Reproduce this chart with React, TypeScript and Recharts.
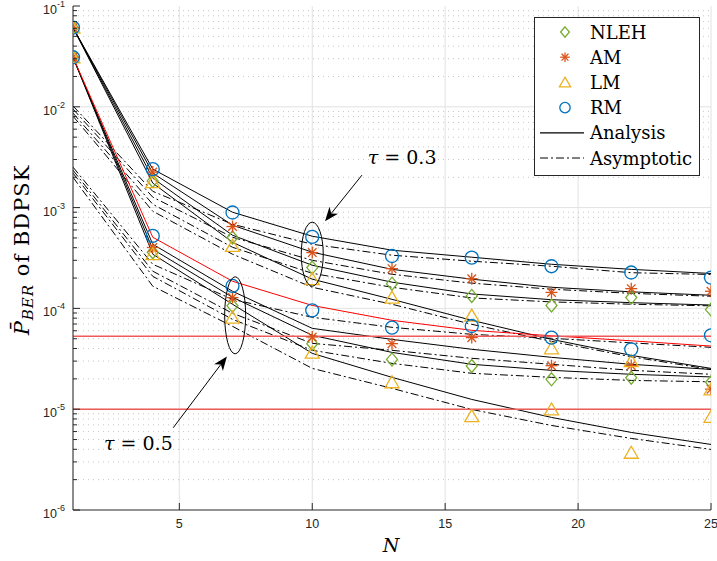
import React from "react"
import { ComposedChart, Line, XAxis, YAxis, CartesianGrid, ReferenceLine, ReferenceDot } from "recharts"

const W = 717
const H = 561

const N_PTS = [1, 4, 7, 10, 13, 16, 19, 22, 25]
const X_TICKS = [5, 10, 15, 20, 25]
const DECADES = [1e-6, 1e-5, 1e-4, 1e-3, 1e-2, 1e-1]
const MINOR_MULT = [2, 3, 4, 5, 6, 7, 8, 9]
const MINOR_TICKS = DECADES.slice(0, -1).flatMap(d => MINOR_MULT.map(m => m * d))
const Y_TICKS = [...DECADES, ...MINOR_TICKS].sort((a, b) => a - b)

// target BER levels (red horizontal lines)
const TARGETS = [5.3e-5, 1e-5]

// tau = 0.3 : simulation points
const simNLEH03 = [6.1e-2, 1.84e-3, 5.05e-4, 2.54e-4, 1.76e-4, 1.33e-4, 1.07e-4, 1.28e-4, 9.73e-5]
const simAM03 = [6.1e-2, 2.25e-3, 6.49e-4, 3.58e-4, 2.48e-4, 1.97e-4, 1.44e-4, 1.57e-4, 1.48e-4]
const simLM03 = [6.1e-2, 1.79e-3, 4.17e-4, 1.95e-4, 1.28e-4, 8.48e-5, 4.02e-5, 3.0e-5, 1.57e-5]
const simRM03 = [6.1e-2, 2.41e-3, 8.94e-4, 5.12e-4, 3.31e-4, 3.19e-4, 2.62e-4, 2.27e-4, 2.02e-4]

// tau = 0.5 : simulation points
const simNLEH05 = [3.1e-2, 3.61e-4, 1.06e-4, 4.47e-5, 3.12e-5, 2.68e-5, 1.98e-5, 2.05e-5, 1.85e-5]
const simAM05 = [3.1e-2, 4.02e-4, 1.28e-4, 5.2e-5, 4.47e-5, 5.13e-5, 2.7e-5, 2.72e-5, 1.58e-5]
const simLM05 = [3.1e-2, 3.45e-4, 8.1e-5, 3.64e-5, 1.85e-5, 8.54e-6, 9.95e-6, 3.7e-6, 8.38e-6]
const simRM05 = [3.1e-2, 5.24e-4, 1.67e-4, 9.57e-5, 6.45e-5, 6.69e-5, 5.13e-5, 3.93e-5, 5.41e-5]

// analysis curves
const anaRM03 = [6.1e-2, 2.41e-3, 9.0e-4, 5.2e-4, 3.78e-4, 3.22e-4, 2.74e-4, 2.44e-4, 2.22e-4]
const anaAM03 = [6.1e-2, 2.2e-3, 6.69e-4, 3.61e-4, 2.44e-4, 1.95e-4, 1.62e-4, 1.46e-4, 1.35e-4]
const anaNLEH03 = [6.1e-2, 1.96e-3, 5.32e-4, 2.68e-4, 1.82e-4, 1.39e-4, 1.22e-4, 1.14e-4, 1.08e-4]
const anaLM03 = [6.1e-2, 1.75e-3, 4.53e-4, 1.95e-4, 1.23e-4, 7.62e-5, 4.93e-5, 3.42e-5, 2.54e-5]
const anaRM05 = [3.1e-2, 5.08e-4, 1.86e-4, 1.07e-4, 7.62e-5, 6.06e-5, 5.35e-5, 4.77e-5, 4.23e-5]
const anaAM05 = [3.1e-2, 4.33e-4, 1.48e-4, 6.34e-5, 4.93e-5, 3.93e-5, 3.27e-5, 2.79e-5, 2.48e-5]
const anaNLEH05 = [3.1e-2, 3.86e-4, 1.29e-4, 5.41e-5, 3.66e-5, 2.79e-5, 2.43e-5, 2.22e-5, 2.09e-5]
const anaLM05 = [3.1e-2, 3.45e-4, 1.1e-4, 3.58e-5, 2.07e-5, 1.25e-5, 8.29e-6, 5.88e-6, 4.47e-6]

// asymptotic curves
const asyRM03 = [1.02e-2, 1.45e-3, 6.84e-4, 4.33e-4, 3.37e-4, 2.94e-4, 2.62e-4, 2.26e-4, 2.17e-4]
const asyAM03 = [9.5e-3, 1.27e-3, 5.08e-4, 3.0e-4, 2.18e-4, 1.78e-4, 1.55e-4, 1.41e-4, 1.32e-4]
const asyNLEH03 = [8.66e-3, 1.08e-3, 4.04e-4, 2.23e-4, 1.62e-4, 1.27e-4, 1.16e-4, 1.1e-4, 1.06e-4]
const asyLM03 = [8.08e-3, 9.21e-4, 3.45e-4, 1.62e-4, 1.1e-4, 6.95e-5, 4.71e-5, 3.31e-5, 2.48e-5]
const asyRM05 = [2.52e-3, 2.74e-4, 1.23e-4, 8.16e-5, 6.49e-5, 5.53e-5, 5.05e-5, 4.55e-5, 4.11e-5]
const asyAM05 = [2.35e-3, 2.34e-4, 8.94e-5, 4.5e-5, 3.84e-5, 3.2e-5, 2.79e-5, 2.43e-5, 2.22e-5]
const asyNLEH05 = [2.2e-3, 2.08e-4, 7.79e-5, 3.84e-5, 2.85e-5, 2.27e-5, 2.07e-5, 1.93e-5, 1.87e-5]
const asyLM05 = [2.0e-3, 1.66e-4, 6.64e-5, 2.54e-5, 1.61e-5, 9.95e-6, 6.9e-6, 5.13e-6, 3.99e-6]

const COL: Record<string, string> = { NLEH: "#77AC30", AM: "#D95319", LM: "#EDB120", RM: "#0072BD" }
const AXIS = "#262626"
const SERIF = "'DejaVu Serif', serif"
const SANS = "'Liberation Sans', Arial, sans-serif"
const DASHDOT = "8 3 2 3"

const rows = (ys: number[]) => N_PTS.map((n, i) => ({ n, v: ys[i] }))

function drawMarker(kind: string, cx: number, cy: number, key: string | number, s = 1) {
  const c = COL[kind]
  if (kind === "NLEH") {
    const h = 6.5 * s, w = 5.5 * s
    return <polygon key={key} points={`${cx},${cy - h} ${cx + w},${cy} ${cx},${cy + h} ${cx - w},${cy}`}
      fill="none" stroke={c} strokeWidth={1.3} />
  }
  if (kind === "AM") {
    const r = 6 * s, d = 4.3 * s
    return (
      <g key={key} stroke={c} strokeWidth={1.3}>
        <line x1={cx - r} x2={cx + r} y1={cy} y2={cy} />
        <line x1={cx} x2={cx} y1={cy - r} y2={cy + r} />
        <line x1={cx - d} x2={cx + d} y1={cy - d} y2={cy + d} />
        <line x1={cx - d} x2={cx + d} y1={cy + d} y2={cy - d} />
      </g>
    )
  }
  if (kind === "LM") {
    return <polygon key={key} points={`${cx},${cy - 6.5 * s} ${cx + 7 * s},${cy + 5.5 * s} ${cx - 7 * s},${cy + 5.5 * s}`}
      fill="none" stroke={c} strokeWidth={1.3} />
  }
  return <circle key={key} cx={cx} cy={cy} r={6.5 * s} fill="none" stroke={c} strokeWidth={1.3} />
}

const markerDot = (kind: string) => (p: any) => {
  const { cx, cy, index } = p
  if (cx == null || cy == null) return <g key={`${kind}-${index}`} />
  return drawMarker(kind, cx, cy, `${kind}-${index}`)
}

const isDecade = (v: number) => Math.abs(Math.log10(v) - Math.round(Math.log10(v))) < 1e-6

function LeftTick(p: any) {
  const { x, y, payload } = p
  const major = isDecade(payload.value)
  return (
    <g>
      <line x1={x} x2={x + (major ? 7 : 4)} y1={y} y2={y} stroke={AXIS} />
      {major && (
        <>
          <text x={x - 16} y={y + 8} textAnchor="end" fontSize={12.5} fontFamily={SANS} fill={AXIS}>10</text>
          <text x={x - 16} y={y + 1} textAnchor="start" fontSize={9} fontFamily={SANS} fill={AXIS}>
            {String(Math.round(Math.log10(payload.value)))}
          </text>
        </>
      )}
    </g>
  )
}

function RightTick(p: any) {
  const { x, y, payload } = p
  const major = isDecade(payload.value)
  return <line x1={x} x2={x - (major ? 7 : 4)} y1={y} y2={y} stroke={AXIS} />
}

function BottomTick(p: any) {
  const { x, y, payload } = p
  return (
    <g>
      <line x1={x} x2={x} y1={y} y2={y - 7} stroke={AXIS} />
      <text x={x} y={y + 18} textAnchor="middle" fontSize={12.5} fontFamily={SANS} fill={AXIS}>{payload.value}</text>
    </g>
  )
}

function TopTick(p: any) {
  const { x, y } = p
  return <line x1={x} x2={x} y1={y} y2={y + 7} stroke={AXIS} />
}

function Arrow(p: any) {
  const { x1, y1, x2, y2 } = p
  const a = Math.atan2(y2 - y1, x2 - x1)
  const ux = Math.cos(a), uy = Math.sin(a)
  const nx = -uy, ny = ux
  const L = 14, hw = 5.5, notch = 4
  const bx = x2 - L * ux, by = y2 - L * uy
  const mx = x2 - (L - notch) * ux, my = y2 - (L - notch) * uy
  return (
    <g>
      <line x1={x1} y1={y1} x2={mx} y2={my} stroke="#000" strokeWidth={1} />
      <polygon points={`${x2},${y2} ${bx + nx * hw},${by + ny * hw} ${mx},${my} ${bx - nx * hw},${by - ny * hw}`} fill="#000" />
    </g>
  )
}

const ellipse = (rx: number, ry: number) => (p: any) =>
  <ellipse cx={p.cx} cy={p.cy} rx={rx} ry={ry} fill="none" stroke="#000" strokeWidth={1} />

const tauLabel = (val: string) => (p: any) => (
  <text x={p.cx} y={p.cy} textAnchor="middle" dominantBaseline="central" fontFamily={SERIF} fontSize={19} fill="#000">
    <tspan fontStyle="italic">τ</tspan> = {val}
  </text>
)

const curve = (ys: number[], key: string, stroke: string, dash?: string) => (
  <Line key={key} data={rows(ys)} dataKey="v" xAxisId="b" yAxisId="l" type="linear" stroke={stroke}
    strokeWidth={1} strokeDasharray={dash} dot={false} activeDot={false} isAnimationActive={false} legendType="none" />
)

const marks = (ys: number[], key: string, kind: string) => (
  <Line key={key} data={rows(ys)} dataKey="v" xAxisId="b" yAxisId="l" stroke="none" dot={markerDot(kind)}
    activeDot={false} isAnimationActive={false} legendType="none" />
)

const LEGEND_ROWS = ["NLEH", "AM", "LM", "RM", "Analysis", "Asymptotic"]

export default function App() {
  return (
    <div style={{ position: "absolute", left: 0, top: 0, width: W, height: H, background: "#fff" }}>
      <ComposedChart width={W} height={H} margin={{ top: 6, right: 6, bottom: 21, left: 13 }}>
        <CartesianGrid xAxisId="b" yAxisId="l" horizontal={false} stroke="#e2e2e2" />
        {MINOR_TICKS.map(v => (
          <ReferenceLine key={`mi${v}`} xAxisId="b" yAxisId="l" y={v} stroke="#c6c6c6" strokeDasharray="1 4" />
        ))}
        {DECADES.slice(1, -1).map(v => (
          <ReferenceLine key={`ma${v}`} xAxisId="b" yAxisId="l" y={v} stroke="#e2e2e2" />
        ))}
        <XAxis xAxisId="b" dataKey="n" type="number" domain={[1, 25]} ticks={X_TICKS} allowDataOverflow
          height={30} tickSize={0} tickMargin={0} interval={0} axisLine={{ stroke: AXIS }} tickLine={false}
          tick={(p: any) => <BottomTick {...p} />} />
        <XAxis xAxisId="t" orientation="top" dataKey="n" type="number" domain={[1, 25]} ticks={X_TICKS} allowDataOverflow
          height={0} tickSize={0} tickMargin={0} interval={0} axisLine={{ stroke: AXIS }} tickLine={false}
          tick={(p: any) => <TopTick {...p} />} />
        <YAxis yAxisId="l" type="number" scale="log" domain={[1e-6, 1e-1]} ticks={Y_TICKS} allowDataOverflow
          width={60} tickSize={0} tickMargin={0} interval={0} axisLine={{ stroke: AXIS }} tickLine={false}
          tick={(p: any) => <LeftTick {...p} />} />
        <YAxis yAxisId="r" orientation="right" type="number" scale="log" domain={[1e-6, 1e-1]} ticks={Y_TICKS} allowDataOverflow
          width={0} tickSize={0} tickMargin={0} interval={0} axisLine={{ stroke: AXIS }} tickLine={false}
          tick={(p: any) => <RightTick {...p} />} />

        {curve(asyRM03, "aR3", "#000", DASHDOT)}
        {curve(asyAM03, "aA3", "#000", DASHDOT)}
        {curve(asyNLEH03, "aN3", "#000", DASHDOT)}
        {curve(asyLM03, "aL3", "#000", DASHDOT)}
        {curve(asyRM05, "aR5", "#000", DASHDOT)}
        {curve(asyAM05, "aA5", "#000", DASHDOT)}
        {curve(asyNLEH05, "aN5", "#000", DASHDOT)}
        {curve(asyLM05, "aL5", "#000", DASHDOT)}

        {curve(anaRM03, "nR3", "#000")}
        {curve(anaAM03, "nA3", "#000")}
        {curve(anaNLEH03, "nN3", "#000")}
        {curve(anaLM03, "nL3", "#000")}
        {curve(anaAM05, "nA5", "#000")}
        {curve(anaNLEH05, "nN5", "#000")}
        {curve(anaLM05, "nL5", "#000")}
        {curve(anaRM05, "nR5", "#ff0000")}

        {TARGETS.map(v => (
          <ReferenceLine key={`t${v}`} xAxisId="b" yAxisId="l" y={v} stroke="#ef5b5b" strokeWidth={1.6} />
        ))}

        {marks(simNLEH03, "sN3", "NLEH")}
        {marks(simNLEH05, "sN5", "NLEH")}
        {marks(simAM03, "sA3", "AM")}
        {marks(simAM05, "sA5", "AM")}
        {marks(simLM03, "sL3", "LM")}
        {marks(simLM05, "sL5", "LM")}
        {marks(simRM03, "sR3", "RM")}
        {marks(simRM05, "sR5", "RM")}

        <ReferenceDot xAxisId="b" yAxisId="l" x={10} y={3.45e-4} r={0} shape={ellipse(11, 32)} />
        <ReferenceDot xAxisId="b" yAxisId="l" x={7.1} y={8.54e-5} r={0} shape={ellipse(10.5, 38.5)} />
        <ReferenceLine xAxisId="b" yAxisId="l" segment={[{ x: 11.87, y: 2.1e-3 }, { x: 10.48, y: 7.33e-4 }]}
          shape={(p: any) => <Arrow {...p} />} />
        <ReferenceLine xAxisId="b" yAxisId="l" segment={[{ x: 4.77, y: 6.55e-6 }, { x: 6.79, y: 3.34e-5 }]}
          shape={(p: any) => <Arrow {...p} />} />
        <ReferenceDot xAxisId="b" yAxisId="l" x={13.38} y={3.17e-3} r={0} shape={tauLabel("0.3")} />
        <ReferenceDot xAxisId="b" yAxisId="l" x={3.46} y={4.57e-6} r={0} shape={tauLabel("0.5")} />
      </ComposedChart>

      <svg width={W} height={H} style={{ position: "absolute", left: 0, top: 0, pointerEvents: "none" }}>
        {/* legend */}
        <rect x={534.5} y={17.5} width={165} height={158} fill="#fff" stroke={AXIS} strokeWidth={1} />
        {LEGEND_ROWS.map((name, i) => {
          const cy = 32 + i * 25.2
          return (
            <g key={name}>
              {i < 4 && drawMarker(name, 565, cy, `lg${name}`, 0.8)}
              {name === "Analysis" && <line x1={540} x2={584} y1={cy} y2={cy} stroke="#000" strokeWidth={1.2} />}
              {name === "Asymptotic" && <line x1={540} x2={584} y1={cy} y2={cy} stroke="#000" strokeWidth={1} strokeDasharray={DASHDOT} />}
              <text x={590} y={cy + 6.5} fontFamily={SERIF} fontSize={18} fill="#000">{name}</text>
            </g>
          )
        })}
        {/* axis titles */}
        <text x={391} y={552} textAnchor="middle" fontFamily={SERIF} fontSize={19} fontStyle="italic" fill="#000">N</text>
        <text transform="translate(29,250) rotate(-90)" textAnchor="middle" fontFamily={SERIF} fontSize={21}
          letterSpacing={1} fill="#000">
          <tspan fontStyle="italic">P{"\u0304"}</tspan>
          <tspan fontStyle="italic" fontSize={15} dy={4}>BER</tspan>
          <tspan dy={-4}> of BDPSK</tspan>
        </text>
      </svg>
    </div>
  )
}
